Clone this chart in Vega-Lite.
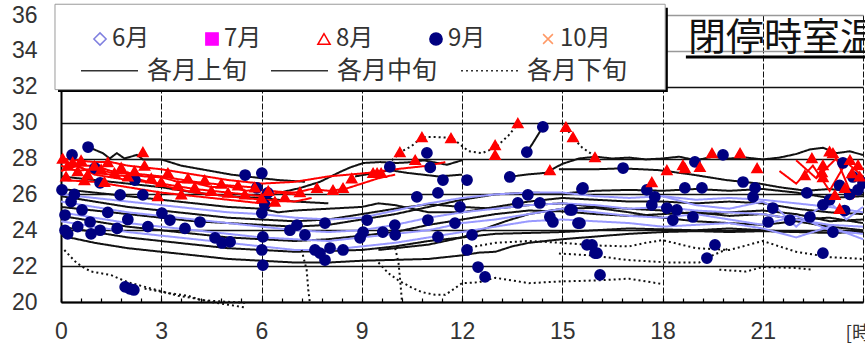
{
  "$schema": "https://vega.github.io/schema/vega-lite/v6.json",
  "width": 802,
  "height": 287,
  "autosize": {"type": "none"},
  "padding": {"left": 61, "top": 15, "right": 2, "bottom": 45},
  "background": "white",
  "config": {"view": {"stroke": null}, "font": "Liberation Sans"},
  "title": {
    "text": "閉停時室温",
    "anchor": "start",
    "frame": "group",
    "orient": "top",
    "offset": -84,
    "dx": 627,
    "baseline": "alphabetic",
    "font": "Noto Sans CJK JP",
    "fontSize": 38,
    "fontWeight": "normal",
    "color": "#111"
  },
  "datasets": {
    "lines": [
      {"s":"B1","m":"9月","p":"中旬","h":0.8,"t":28.65},{"s":"B1","m":"9月","p":"中旬","h":1.25,"t":28.3},{"s":"B1","m":"9月","p":"中旬","h":1.46,"t":28.0},{"s":"B1","m":"9月","p":"中旬","h":1.67,"t":28.3},{"s":"B1","m":"9月","p":"中旬","h":1.9,"t":28.0},{"s":"B1","m":"9月","p":"中旬","h":2.27,"t":28.2},{"s":"B1","m":"9月","p":"中旬","h":2.45,"t":27.95},{"s":"B1","m":"9月","p":"中旬","h":3,"t":27.95},{"s":"B1","m":"9月","p":"中旬","h":3.6,"t":27.6},{"s":"B1","m":"9月","p":"中旬","h":4.5,"t":27.3},{"s":"B1","m":"9月","p":"中旬","h":5.1,"t":27.1},{"s":"B1","m":"9月","p":"中旬","h":6,"t":26.9},{"s":"B1","m":"9月","p":"中旬","h":6.5,"t":26.8},{"s":"B1","m":"9月","p":"中旬","h":7.3,"t":26.7},
      {"s":"B6","m":"8月","p":"中旬","h":0,"t":27.0},{"s":"B6","m":"8月","p":"中旬","h":1,"t":26.8},{"s":"B6","m":"8月","p":"中旬","h":2,"t":26.6},{"s":"B6","m":"8月","p":"中旬","h":3,"t":26.4},{"s":"B6","m":"8月","p":"中旬","h":4,"t":26.1},{"s":"B6","m":"8月","p":"中旬","h":5,"t":25.9},{"s":"B6","m":"8月","p":"中旬","h":6,"t":25.8},{"s":"B6","m":"8月","p":"中旬","h":6.5,"t":25.7},{"s":"B6","m":"8月","p":"中旬","h":7,"t":25.6},{"s":"B6","m":"8月","p":"中旬","h":8,"t":25.5},
      {"s":"B2","m":"8月","p":"中旬","h":6.55,"t":26.1},{"s":"B2","m":"8月","p":"中旬","h":7.15,"t":26.35},{"s":"B2","m":"8月","p":"中旬","h":7.75,"t":26.7},{"s":"B2","m":"8月","p":"中旬","h":8.35,"t":27.25},{"s":"B2","m":"8月","p":"中旬","h":8.65,"t":27.5},{"s":"B2","m":"8月","p":"中旬","h":9.05,"t":27.75},{"s":"B2","m":"8月","p":"中旬","h":9.55,"t":27.8},{"s":"B2","m":"8月","p":"中旬","h":10.05,"t":27.75},{"s":"B2","m":"8月","p":"中旬","h":10.55,"t":27.8},{"s":"B2","m":"8月","p":"中旬","h":10.85,"t":27.9},{"s":"B2","m":"8月","p":"中旬","h":11.55,"t":27.65},{"s":"B2","m":"8月","p":"中旬","h":12,"t":27.9},
      {"s":"B3","m":"8月","p":"中旬","h":8.8,"t":27.0},{"s":"B3","m":"8月","p":"中旬","h":9.4,"t":27.2},{"s":"B3","m":"8月","p":"中旬","h":9.85,"t":27.35},{"s":"B3","m":"8月","p":"中旬","h":10.35,"t":27.2},{"s":"B3","m":"8月","p":"中旬","h":11.3,"t":27.0},{"s":"B3","m":"8月","p":"中旬","h":12,"t":27.1},
      {"s":"B4","m":"8月","p":"中旬","h":13.4,"t":26.97},{"s":"B4","m":"8月","p":"中旬","h":13.9,"t":27.1},{"s":"B4","m":"8月","p":"中旬","h":14.5,"t":27.2},{"s":"B4","m":"8月","p":"中旬","h":15,"t":27.7},{"s":"B4","m":"8月","p":"中旬","h":15.5,"t":28.0},{"s":"B4","m":"8月","p":"中旬","h":16,"t":28.1},{"s":"B4","m":"8月","p":"中旬","h":16.5,"t":28.0},{"s":"B4","m":"8月","p":"中旬","h":17,"t":28.05},{"s":"B4","m":"8月","p":"中旬","h":17.5,"t":27.95},{"s":"B4","m":"8月","p":"中旬","h":18,"t":28.0},{"s":"B4","m":"8月","p":"中旬","h":18.5,"t":28.1},{"s":"B4","m":"8月","p":"中旬","h":19,"t":27.9},{"s":"B4","m":"8月","p":"中旬","h":19.5,"t":28.1},{"s":"B4","m":"8月","p":"中旬","h":20,"t":28.0},{"s":"B4","m":"8月","p":"中旬","h":20.5,"t":28.05},{"s":"B4","m":"8月","p":"中旬","h":21,"t":27.95},{"s":"B4","m":"8月","p":"中旬","h":21.5,"t":28.05},{"s":"B4","m":"8月","p":"中旬","h":22,"t":28.25},{"s":"B4","m":"8月","p":"中旬","h":22.4,"t":28.5},{"s":"B4","m":"8月","p":"中旬","h":22.8,"t":28.6},{"s":"B4","m":"8月","p":"中旬","h":23.2,"t":28.3},{"s":"B4","m":"8月","p":"中旬","h":23.6,"t":28.4},{"s":"B4","m":"8月","p":"中旬","h":24,"t":28.2},
      {"s":"B5","m":"8月","p":"中旬","h":14.9,"t":27.4},{"s":"B5","m":"8月","p":"中旬","h":16,"t":27.4},{"s":"B5","m":"8月","p":"中旬","h":16.8,"t":27.45},{"s":"B5","m":"8月","p":"中旬","h":17.9,"t":27.35},{"s":"B5","m":"8月","p":"中旬","h":18.9,"t":27.1},{"s":"B5","m":"8月","p":"中旬","h":19.9,"t":26.8},{"s":"B5","m":"8月","p":"中旬","h":20.9,"t":26.6},{"s":"B5","m":"8月","p":"中旬","h":21.5,"t":26.4},{"s":"B5","m":"8月","p":"中旬","h":22.3,"t":26.2},{"s":"B5","m":"8月","p":"中旬","h":23,"t":26.3},{"s":"B5","m":"8月","p":"中旬","h":24,"t":26.1},
      {"s":"N8","m":"9月","p":"中旬","h":13.94,"t":28.36},{"s":"N8","m":"9月","p":"中旬","h":14.1,"t":28.8},{"s":"N8","m":"9月","p":"中旬","h":14.42,"t":29.76},
      {"s":"N1","m":"9月","p":"上旬","h":0,"t":26.3},{"s":"N1","m":"9月","p":"上旬","h":1,"t":26.1},{"s":"N1","m":"9月","p":"上旬","h":2,"t":25.9},{"s":"N1","m":"9月","p":"上旬","h":3,"t":25.7},{"s":"N1","m":"9月","p":"上旬","h":4,"t":25.5},{"s":"N1","m":"9月","p":"上旬","h":5,"t":25.3},{"s":"N1","m":"9月","p":"上旬","h":6,"t":25.2},{"s":"N1","m":"9月","p":"上旬","h":6.5,"t":25.0},{"s":"N1","m":"9月","p":"上旬","h":7,"t":25.1},{"s":"N1","m":"9月","p":"上旬","h":8,"t":25.2},{"s":"N1","m":"9月","p":"上旬","h":9,"t":25.3},{"s":"N1","m":"9月","p":"上旬","h":9.5,"t":25.5},{"s":"N1","m":"9月","p":"上旬","h":10,"t":25.4},{"s":"N1","m":"9月","p":"上旬","h":10.5,"t":25.2},{"s":"N1","m":"9月","p":"上旬","h":11,"t":25.0},{"s":"N1","m":"9月","p":"上旬","h":12,"t":25.0},{"s":"N1","m":"9月","p":"上旬","h":13,"t":25.3},{"s":"N1","m":"9月","p":"上旬","h":14,"t":25.6},{"s":"N1","m":"9月","p":"上旬","h":15,"t":25.8},{"s":"N1","m":"9月","p":"上旬","h":16,"t":25.7},{"s":"N1","m":"9月","p":"上旬","h":17,"t":25.6},{"s":"N1","m":"9月","p":"上旬","h":18,"t":25.6},{"s":"N1","m":"9月","p":"上旬","h":19,"t":25.5},{"s":"N1","m":"9月","p":"上旬","h":20,"t":25.6},{"s":"N1","m":"9月","p":"上旬","h":21,"t":25.5},{"s":"N1","m":"9月","p":"上旬","h":22,"t":25.2},{"s":"N1","m":"9月","p":"上旬","h":23,"t":25.0},{"s":"N1","m":"9月","p":"上旬","h":24,"t":24.9},
      {"s":"N2","m":"6月","p":"中旬","h":0,"t":25.3},{"s":"N2","m":"6月","p":"中旬","h":1,"t":25.1},{"s":"N2","m":"6月","p":"中旬","h":2,"t":24.9},{"s":"N2","m":"6月","p":"中旬","h":3,"t":24.7},{"s":"N2","m":"6月","p":"中旬","h":4,"t":24.5},{"s":"N2","m":"6月","p":"中旬","h":5,"t":24.4},{"s":"N2","m":"6月","p":"中旬","h":6,"t":24.3},{"s":"N2","m":"6月","p":"中旬","h":7,"t":24.2},{"s":"N2","m":"6月","p":"中旬","h":8,"t":24.3},{"s":"N2","m":"6月","p":"中旬","h":9,"t":24.6},{"s":"N2","m":"6月","p":"中旬","h":10,"t":24.9},{"s":"N2","m":"6月","p":"中旬","h":11,"t":25.3},{"s":"N2","m":"6月","p":"中旬","h":12,"t":25.7},{"s":"N2","m":"6月","p":"中旬","h":13,"t":26.0},{"s":"N2","m":"6月","p":"中旬","h":14,"t":26.1},{"s":"N2","m":"6月","p":"中旬","h":15,"t":26.05},{"s":"N2","m":"6月","p":"中旬","h":16,"t":26.2},{"s":"N2","m":"6月","p":"中旬","h":17,"t":26.25},{"s":"N2","m":"6月","p":"中旬","h":18,"t":26.2},{"s":"N2","m":"6月","p":"中旬","h":19,"t":26.3},{"s":"N2","m":"6月","p":"中旬","h":20,"t":26.2},{"s":"N2","m":"6月","p":"中旬","h":21,"t":26.3},{"s":"N2","m":"6月","p":"中旬","h":22,"t":26.1},{"s":"N2","m":"6月","p":"中旬","h":23,"t":25.8},{"s":"N2","m":"6月","p":"中旬","h":24,"t":25.9},
      {"s":"N3","m":"6月","p":"中旬","h":0,"t":24.8},{"s":"N3","m":"6月","p":"中旬","h":1,"t":24.5},{"s":"N3","m":"6月","p":"中旬","h":2,"t":24.2},{"s":"N3","m":"6月","p":"中旬","h":3,"t":24.0},{"s":"N3","m":"6月","p":"中旬","h":4,"t":23.8},{"s":"N3","m":"6月","p":"中旬","h":5,"t":23.6},{"s":"N3","m":"6月","p":"中旬","h":6,"t":23.5},{"s":"N3","m":"6月","p":"中旬","h":7,"t":23.4},{"s":"N3","m":"6月","p":"中旬","h":8,"t":23.5},{"s":"N3","m":"6月","p":"中旬","h":9,"t":23.7},{"s":"N3","m":"6月","p":"中旬","h":10,"t":23.9},{"s":"N3","m":"6月","p":"中旬","h":11,"t":24.3},{"s":"N3","m":"6月","p":"中旬","h":12,"t":24.6},{"s":"N3","m":"6月","p":"中旬","h":13,"t":24.9},{"s":"N3","m":"6月","p":"中旬","h":14,"t":25.1},{"s":"N3","m":"6月","p":"中旬","h":15,"t":25.05},{"s":"N3","m":"6月","p":"中旬","h":16,"t":24.9},{"s":"N3","m":"6月","p":"中旬","h":17,"t":24.8},{"s":"N3","m":"6月","p":"中旬","h":18,"t":24.9},{"s":"N3","m":"6月","p":"中旬","h":19,"t":25.0},{"s":"N3","m":"6月","p":"中旬","h":20,"t":24.8},{"s":"N3","m":"6月","p":"中旬","h":21,"t":24.9},{"s":"N3","m":"6月","p":"中旬","h":22,"t":24.6},{"s":"N3","m":"6月","p":"中旬","h":23,"t":24.7},{"s":"N3","m":"6月","p":"中旬","h":24,"t":24.4},
      {"s":"N4","m":"9月","p":"上旬","h":0,"t":24.2},{"s":"N4","m":"9月","p":"上旬","h":1,"t":23.9},{"s":"N4","m":"9月","p":"上旬","h":2,"t":23.6},{"s":"N4","m":"9月","p":"上旬","h":3,"t":23.4},{"s":"N4","m":"9月","p":"上旬","h":4,"t":23.2},{"s":"N4","m":"9月","p":"上旬","h":5,"t":23.0},{"s":"N4","m":"9月","p":"上旬","h":6,"t":22.9},{"s":"N4","m":"9月","p":"上旬","h":7,"t":22.8},{"s":"N4","m":"9月","p":"上旬","h":8,"t":22.85},{"s":"N4","m":"9月","p":"上旬","h":9,"t":22.9},{"s":"N4","m":"9月","p":"上旬","h":10,"t":23.1},{"s":"N4","m":"9月","p":"上旬","h":11,"t":23.4},{"s":"N4","m":"9月","p":"上旬","h":12,"t":23.6},{"s":"N4","m":"9月","p":"上旬","h":13,"t":23.8},{"s":"N4","m":"9月","p":"上旬","h":14,"t":23.85},{"s":"N4","m":"9月","p":"上旬","h":15,"t":23.9},{"s":"N4","m":"9月","p":"上旬","h":16,"t":24.0},{"s":"N4","m":"9月","p":"上旬","h":17,"t":24.1},{"s":"N4","m":"9月","p":"上旬","h":18,"t":24.05},{"s":"N4","m":"9月","p":"上旬","h":19,"t":24.0},{"s":"N4","m":"9月","p":"上旬","h":20,"t":24.1},{"s":"N4","m":"9月","p":"上旬","h":21,"t":24.0},{"s":"N4","m":"9月","p":"上旬","h":22,"t":23.9},{"s":"N4","m":"9月","p":"上旬","h":23,"t":24.0},{"s":"N4","m":"9月","p":"上旬","h":24,"t":23.9},
      {"s":"N5","m":"9月","p":"中旬","h":0,"t":23.7},{"s":"N5","m":"9月","p":"中旬","h":1,"t":23.3},{"s":"N5","m":"9月","p":"中旬","h":2,"t":23.0},{"s":"N5","m":"9月","p":"中旬","h":3,"t":22.8},{"s":"N5","m":"9月","p":"中旬","h":4,"t":22.6},{"s":"N5","m":"9月","p":"中旬","h":5,"t":22.4},{"s":"N5","m":"9月","p":"中旬","h":6,"t":22.3},{"s":"N5","m":"9月","p":"中旬","h":7,"t":22.2},{"s":"N5","m":"9月","p":"中旬","h":8,"t":22.2},{"s":"N5","m":"9月","p":"中旬","h":9,"t":22.3},{"s":"N5","m":"9月","p":"中旬","h":10,"t":22.35},{"s":"N5","m":"9月","p":"中旬","h":11,"t":22.4},{"s":"N5","m":"9月","p":"中旬","h":12,"t":22.6},{"s":"N5","m":"9月","p":"中旬","h":12.5,"t":22.75},{"s":"N5","m":"9月","p":"中旬","h":13,"t":22.8},{"s":"N5","m":"9月","p":"中旬","h":13.5,"t":23.1},{"s":"N5","m":"9月","p":"中旬","h":14,"t":23.3},{"s":"N5","m":"9月","p":"中旬","h":15,"t":23.5},{"s":"N5","m":"9月","p":"中旬","h":16,"t":23.65},{"s":"N5","m":"9月","p":"中旬","h":17,"t":23.8},{"s":"N5","m":"9月","p":"中旬","h":18,"t":23.9},{"s":"N5","m":"9月","p":"中旬","h":19,"t":23.95},{"s":"N5","m":"9月","p":"中旬","h":20,"t":23.9},{"s":"N5","m":"9月","p":"中旬","h":21,"t":23.95},{"s":"N5","m":"9月","p":"中旬","h":22,"t":23.9},{"s":"N5","m":"9月","p":"中旬","h":23,"t":23.85},{"s":"N5","m":"9月","p":"中旬","h":24,"t":23.9},
      {"s":"N6","m":"6月","p":"中旬","h":0,"t":25.9},{"s":"N6","m":"6月","p":"中旬","h":1,"t":25.6},{"s":"N6","m":"6月","p":"中旬","h":2,"t":25.3},{"s":"N6","m":"6月","p":"中旬","h":3,"t":25.1},{"s":"N6","m":"6月","p":"中旬","h":4,"t":24.9},{"s":"N6","m":"6月","p":"中旬","h":5,"t":24.7},{"s":"N6","m":"6月","p":"中旬","h":6,"t":24.6},{"s":"N6","m":"6月","p":"中旬","h":7,"t":24.5},{"s":"N6","m":"6月","p":"中旬","h":8,"t":24.6},{"s":"N6","m":"6月","p":"中旬","h":9,"t":24.9},{"s":"N6","m":"6月","p":"中旬","h":10,"t":25.2},{"s":"N6","m":"6月","p":"中旬","h":11,"t":25.45},{"s":"N6","m":"6月","p":"中旬","h":12,"t":25.3},{"s":"N6","m":"6月","p":"中旬","h":13,"t":25.2},{"s":"N6","m":"6月","p":"中旬","h":14,"t":25.4},{"s":"N6","m":"6月","p":"中旬","h":15,"t":25.5},{"s":"N6","m":"6月","p":"中旬","h":16,"t":25.3},{"s":"N6","m":"6月","p":"中旬","h":17,"t":25.2},{"s":"N6","m":"6月","p":"中旬","h":18,"t":25.1},{"s":"N6","m":"6月","p":"中旬","h":19,"t":24.9},{"s":"N6","m":"6月","p":"中旬","h":20,"t":25.0},{"s":"N6","m":"6月","p":"中旬","h":21,"t":25.1},{"s":"N6","m":"6月","p":"中旬","h":22,"t":24.9},{"s":"N6","m":"6月","p":"中旬","h":23,"t":24.5},{"s":"N6","m":"6月","p":"中旬","h":24,"t":24.6},
      {"s":"N7","m":"9月","p":"中旬","h":9.5,"t":22.9},{"s":"N7","m":"9月","p":"中旬","h":10,"t":23.0},{"s":"N7","m":"9月","p":"中旬","h":11,"t":23.2},{"s":"N7","m":"9月","p":"中旬","h":12,"t":23.6},{"s":"N7","m":"9月","p":"中旬","h":12.3,"t":23.8},{"s":"N7","m":"9月","p":"中旬","h":12.7,"t":24.1},{"s":"N7","m":"9月","p":"中旬","h":13.3,"t":24.5},{"s":"N7","m":"9月","p":"中旬","h":14,"t":24.9},{"s":"N7","m":"9月","p":"中旬","h":15,"t":25.2},{"s":"N7","m":"9月","p":"中旬","h":16,"t":25.25},{"s":"N7","m":"9月","p":"中旬","h":17,"t":25.0},{"s":"N7","m":"9月","p":"中旬","h":18,"t":24.7},{"s":"N7","m":"9月","p":"中旬","h":19,"t":24.5},{"s":"N7","m":"9月","p":"中旬","h":20,"t":24.4},{"s":"N7","m":"9月","p":"中旬","h":21,"t":24.3},{"s":"N7","m":"9月","p":"中旬","h":22,"t":24.5},{"s":"N7","m":"9月","p":"中旬","h":23,"t":24.2},{"s":"N7","m":"9月","p":"中旬","h":24,"t":24.0},
      {"s":"M1","m":"6月","p":"上旬","h":0,"t":26.0},{"s":"M1","m":"6月","p":"上旬","h":1,"t":25.8},{"s":"M1","m":"6月","p":"上旬","h":2,"t":25.6},{"s":"M1","m":"6月","p":"上旬","h":3,"t":25.4},{"s":"M1","m":"6月","p":"上旬","h":4,"t":25.2},{"s":"M1","m":"6月","p":"上旬","h":5,"t":25.0},{"s":"M1","m":"6月","p":"上旬","h":6,"t":24.9},{"s":"M1","m":"6月","p":"上旬","h":7,"t":24.7},{"s":"M1","m":"6月","p":"上旬","h":8,"t":24.6},{"s":"M1","m":"6月","p":"上旬","h":9,"t":24.7},{"s":"M1","m":"6月","p":"上旬","h":10,"t":25.1},{"s":"M1","m":"6月","p":"上旬","h":11,"t":25.5},{"s":"M1","m":"6月","p":"上旬","h":12,"t":25.8},{"s":"M1","m":"6月","p":"上旬","h":13,"t":26.0},{"s":"M1","m":"6月","p":"上旬","h":14,"t":26.1},{"s":"M1","m":"6月","p":"上旬","h":15,"t":26.1},{"s":"M1","m":"6月","p":"上旬","h":16,"t":25.9},{"s":"M1","m":"6月","p":"上旬","h":17,"t":25.8},{"s":"M1","m":"6月","p":"上旬","h":18,"t":25.9},{"s":"M1","m":"6月","p":"上旬","h":19,"t":25.7},{"s":"M1","m":"6月","p":"上旬","h":20,"t":25.8},{"s":"M1","m":"6月","p":"上旬","h":21,"t":25.7},{"s":"M1","m":"6月","p":"上旬","h":22,"t":25.5},{"s":"M1","m":"6月","p":"上旬","h":23,"t":25.3},{"s":"M1","m":"6月","p":"上旬","h":24,"t":25.0},
      {"s":"M2","m":"6月","p":"上旬","h":0,"t":25.6},{"s":"M2","m":"6月","p":"上旬","h":1,"t":25.3},{"s":"M2","m":"6月","p":"上旬","h":2,"t":25.0},{"s":"M2","m":"6月","p":"上旬","h":3,"t":24.8},{"s":"M2","m":"6月","p":"上旬","h":4,"t":24.6},{"s":"M2","m":"6月","p":"上旬","h":5,"t":24.4},{"s":"M2","m":"6月","p":"上旬","h":6,"t":24.2},{"s":"M2","m":"6月","p":"上旬","h":7,"t":24.0},{"s":"M2","m":"6月","p":"上旬","h":8,"t":23.9},{"s":"M2","m":"6月","p":"上旬","h":9,"t":24.0},{"s":"M2","m":"6月","p":"上旬","h":10,"t":24.3},{"s":"M2","m":"6月","p":"上旬","h":11,"t":24.7},{"s":"M2","m":"6月","p":"上旬","h":12,"t":25.0},{"s":"M2","m":"6月","p":"上旬","h":13,"t":25.2},{"s":"M2","m":"6月","p":"上旬","h":14,"t":25.4},{"s":"M2","m":"6月","p":"上旬","h":15,"t":25.5},{"s":"M2","m":"6月","p":"上旬","h":16,"t":25.4},{"s":"M2","m":"6月","p":"上旬","h":17,"t":25.2},{"s":"M2","m":"6月","p":"上旬","h":18,"t":25.3},{"s":"M2","m":"6月","p":"上旬","h":19,"t":25.1},{"s":"M2","m":"6月","p":"上旬","h":20,"t":25.0},{"s":"M2","m":"6月","p":"上旬","h":21,"t":24.9},{"s":"M2","m":"6月","p":"上旬","h":22,"t":24.6},{"s":"M2","m":"6月","p":"上旬","h":23,"t":24.3},{"s":"M2","m":"6月","p":"上旬","h":24,"t":24.2},
      {"s":"M3","m":"6月","p":"上旬","h":0,"t":25.0},{"s":"M3","m":"6月","p":"上旬","h":1,"t":24.7},{"s":"M3","m":"6月","p":"上旬","h":2,"t":24.4},{"s":"M3","m":"6月","p":"上旬","h":3,"t":24.2},{"s":"M3","m":"6月","p":"上旬","h":4,"t":24.0},{"s":"M3","m":"6月","p":"上旬","h":5,"t":23.8},{"s":"M3","m":"6月","p":"上旬","h":6,"t":23.6},{"s":"M3","m":"6月","p":"上旬","h":7,"t":23.5},{"s":"M3","m":"6月","p":"上旬","h":8,"t":23.4},{"s":"M3","m":"6月","p":"上旬","h":9,"t":23.6},{"s":"M3","m":"6月","p":"上旬","h":10,"t":23.8},{"s":"M3","m":"6月","p":"上旬","h":11,"t":24.0},{"s":"M3","m":"6月","p":"上旬","h":12,"t":24.4},{"s":"M3","m":"6月","p":"上旬","h":13,"t":24.6},{"s":"M3","m":"6月","p":"上旬","h":14,"t":24.9},{"s":"M3","m":"6月","p":"上旬","h":15,"t":25.2},{"s":"M3","m":"6月","p":"上旬","h":16,"t":25.0},{"s":"M3","m":"6月","p":"上旬","h":17,"t":24.8},{"s":"M3","m":"6月","p":"上旬","h":18,"t":24.7},{"s":"M3","m":"6月","p":"上旬","h":19,"t":24.9},{"s":"M3","m":"6月","p":"上旬","h":20,"t":24.6},{"s":"M3","m":"6月","p":"上旬","h":21,"t":24.3},{"s":"M3","m":"6月","p":"上旬","h":22,"t":24.8},{"s":"M3","m":"6月","p":"上旬","h":23,"t":24.0},{"s":"M3","m":"6月","p":"上旬","h":24,"t":23.8},
      {"s":"M4","m":"6月","p":"上旬","h":0,"t":24.5},{"s":"M4","m":"6月","p":"上旬","h":1,"t":24.2},{"s":"M4","m":"6月","p":"上旬","h":2,"t":23.9},{"s":"M4","m":"6月","p":"上旬","h":3,"t":23.7},{"s":"M4","m":"6月","p":"上旬","h":4,"t":23.5},{"s":"M4","m":"6月","p":"上旬","h":5,"t":23.3},{"s":"M4","m":"6月","p":"上旬","h":6,"t":23.1},{"s":"M4","m":"6月","p":"上旬","h":7,"t":22.9},{"s":"M4","m":"6月","p":"上旬","h":8,"t":22.9},{"s":"M4","m":"6月","p":"上旬","h":9,"t":23.1},{"s":"M4","m":"6月","p":"上旬","h":10,"t":23.3},{"s":"M4","m":"6月","p":"上旬","h":11,"t":23.6},{"s":"M4","m":"6月","p":"上旬","h":12,"t":23.9},{"s":"M4","m":"6月","p":"上旬","h":13,"t":24.2},{"s":"M4","m":"6月","p":"上旬","h":14,"t":24.5},{"s":"M4","m":"6月","p":"上旬","h":15,"t":24.6},{"s":"M4","m":"6月","p":"上旬","h":16,"t":24.5},{"s":"M4","m":"6月","p":"上旬","h":17,"t":24.4},{"s":"M4","m":"6月","p":"上旬","h":18,"t":24.2},{"s":"M4","m":"6月","p":"上旬","h":19,"t":24.3},{"s":"M4","m":"6月","p":"上旬","h":20,"t":24.4},{"s":"M4","m":"6月","p":"上旬","h":21,"t":24.1},{"s":"M4","m":"6月","p":"上旬","h":22,"t":23.6},{"s":"M4","m":"6月","p":"上旬","h":23,"t":24.2},{"s":"M4","m":"6月","p":"上旬","h":24,"t":23.5},
      {"s":"M5","m":"6月","p":"上旬","h":18,"t":25.9},{"s":"M5","m":"6月","p":"上旬","h":19,"t":25.4},{"s":"M5","m":"6月","p":"上旬","h":20,"t":25.2},{"s":"M5","m":"6月","p":"上旬","h":21,"t":25.6},{"s":"M5","m":"6月","p":"上旬","h":21.5,"t":25.1},{"s":"M5","m":"6月","p":"上旬","h":22,"t":24.2},{"s":"M5","m":"6月","p":"上旬","h":22.5,"t":25.0},{"s":"M5","m":"6月","p":"上旬","h":23,"t":25.6},{"s":"M5","m":"6月","p":"上旬","h":23.5,"t":24.6},{"s":"M5","m":"6月","p":"上旬","h":24,"t":25.3},
      {"s":"R1","m":"8月","p":"上旬","h":0,"t":28.0},{"s":"R1","m":"8月","p":"上旬","h":0.5,"t":27.9},{"s":"R1","m":"8月","p":"上旬","h":1,"t":27.8},{"s":"R1","m":"8月","p":"上旬","h":1.5,"t":27.8},{"s":"R1","m":"8月","p":"上旬","h":2,"t":27.6},{"s":"R1","m":"8月","p":"上旬","h":3,"t":27.4},{"s":"R1","m":"8月","p":"上旬","h":4,"t":27.1},{"s":"R1","m":"8月","p":"上旬","h":5,"t":26.8},{"s":"R1","m":"8月","p":"上旬","h":6,"t":26.6},{"s":"R1","m":"8月","p":"上旬","h":7,"t":26.7},{"s":"R1","m":"8月","p":"上旬","h":8,"t":27.0},{"s":"R1","m":"8月","p":"上旬","h":8.6,"t":27.1},{"s":"R1","m":"8月","p":"上旬","h":9.2,"t":27.2},{"s":"R1","m":"8月","p":"上旬","h":10,"t":27.4},{"s":"R1","m":"8月","p":"上旬","h":11,"t":27.6},{"s":"R1","m":"8月","p":"上旬","h":11.5,"t":27.8},
      {"s":"R2","m":"8月","p":"上旬","h":0,"t":27.6},{"s":"R2","m":"8月","p":"上旬","h":0.5,"t":27.3},{"s":"R2","m":"8月","p":"上旬","h":1,"t":27.45},{"s":"R2","m":"8月","p":"上旬","h":1.5,"t":27.2},{"s":"R2","m":"8月","p":"上旬","h":2,"t":27.15},{"s":"R2","m":"8月","p":"上旬","h":2.5,"t":27.0},{"s":"R2","m":"8月","p":"上旬","h":3,"t":26.95},{"s":"R2","m":"8月","p":"上旬","h":3.5,"t":26.7},{"s":"R2","m":"8月","p":"上旬","h":4,"t":26.65},{"s":"R2","m":"8月","p":"上旬","h":4.5,"t":26.4},{"s":"R2","m":"8月","p":"上旬","h":5,"t":26.45},{"s":"R2","m":"8月","p":"上旬","h":5.5,"t":26.2},{"s":"R2","m":"8月","p":"上旬","h":6,"t":26.25},{"s":"R2","m":"8月","p":"上旬","h":6.5,"t":26.15},{"s":"R2","m":"8月","p":"上旬","h":7,"t":26.1},{"s":"R2","m":"8月","p":"上旬","h":7.5,"t":26.3},{"s":"R2","m":"8月","p":"上旬","h":8,"t":26.2},{"s":"R2","m":"8月","p":"上旬","h":8.5,"t":26.3},{"s":"R2","m":"8月","p":"上旬","h":9,"t":26.6},{"s":"R2","m":"8月","p":"上旬","h":9.5,"t":26.9},{"s":"R2","m":"8月","p":"上旬","h":10,"t":27.1},
      {"s":"R3","m":"8月","p":"上旬","h":0,"t":27.3},{"s":"R3","m":"8月","p":"上旬","h":0.5,"t":27.6},{"s":"R3","m":"8月","p":"上旬","h":1,"t":27.1},{"s":"R3","m":"8月","p":"上旬","h":2,"t":26.8},{"s":"R3","m":"8月","p":"上旬","h":3,"t":26.6},{"s":"R3","m":"8月","p":"上旬","h":4,"t":26.3},{"s":"R3","m":"8月","p":"上旬","h":5,"t":26.1},{"s":"R3","m":"8月","p":"上旬","h":6,"t":25.9},{"s":"R3","m":"8月","p":"上旬","h":6.5,"t":26.1},{"s":"R3","m":"8月","p":"上旬","h":7,"t":26.0},
      {"s":"R4","m":"8月","p":"上旬","h":0,"t":26.8},{"s":"R4","m":"8月","p":"上旬","h":1,"t":26.7},{"s":"R4","m":"8月","p":"上旬","h":2,"t":26.4},{"s":"R4","m":"8月","p":"上旬","h":3,"t":26.1},{"s":"R4","m":"8月","p":"上旬","h":4,"t":25.9},{"s":"R4","m":"8月","p":"上旬","h":5,"t":25.7},{"s":"R4","m":"8月","p":"上旬","h":6,"t":25.5},{"s":"R4","m":"8月","p":"上旬","h":6.5,"t":25.4},
      {"s":"R5","m":"8月","p":"上旬","h":0,"t":28.2},{"s":"R5","m":"8月","p":"上旬","h":0.3,"t":27.6},{"s":"R5","m":"8月","p":"上旬","h":1,"t":27.6},{"s":"R5","m":"8月","p":"上旬","h":1.5,"t":27.3},{"s":"R5","m":"8月","p":"上旬","h":2,"t":27.2},{"s":"R5","m":"8月","p":"上旬","h":3,"t":27.0},{"s":"R5","m":"8月","p":"上旬","h":4,"t":26.7},{"s":"R5","m":"8月","p":"上旬","h":5,"t":26.5},{"s":"R5","m":"8月","p":"上旬","h":5.7,"t":26.4},{"s":"R5","m":"8月","p":"上旬","h":6,"t":26.2},
      {"s":"R6","m":"8月","p":"上旬","h":0,"t":27.9},{"s":"R6","m":"8月","p":"上旬","h":1,"t":27.2},{"s":"R6","m":"8月","p":"上旬","h":2,"t":27.0},{"s":"R6","m":"8月","p":"上旬","h":3,"t":26.5},{"s":"R6","m":"8月","p":"上旬","h":4,"t":26.1},{"s":"R6","m":"8月","p":"上旬","h":5,"t":25.9},{"s":"R6","m":"8月","p":"上旬","h":6,"t":25.7},{"s":"R6","m":"8月","p":"上旬","h":7,"t":25.6},{"s":"R6","m":"8月","p":"上旬","h":7.5,"t":25.8},
      {"s":"R7","m":"8月","p":"上旬","h":21.5,"t":27.3},{"s":"R7","m":"8月","p":"上旬","h":22,"t":26.6},{"s":"R7","m":"8月","p":"上旬","h":22.5,"t":27.6},{"s":"R7","m":"8月","p":"上旬","h":23,"t":26.2},{"s":"R7","m":"8月","p":"上旬","h":23.5,"t":27.8},{"s":"R7","m":"8月","p":"上旬","h":24,"t":27.0},
      {"s":"R8","m":"8月","p":"上旬","h":22,"t":27.9},{"s":"R8","m":"8月","p":"上旬","h":22.6,"t":26.9},{"s":"R8","m":"8月","p":"上旬","h":23.2,"t":28.0},{"s":"R8","m":"8月","p":"上旬","h":23.7,"t":25.8},{"s":"R8","m":"8月","p":"上旬","h":24,"t":26.6},
      {"s":"D1","m":"9月","p":"下旬","h":0.1,"t":22.9},{"s":"D1","m":"9月","p":"下旬","h":0.4,"t":22.3},{"s":"D1","m":"9月","p":"下旬","h":0.6,"t":22.0},{"s":"D1","m":"9月","p":"下旬","h":0.9,"t":21.7},{"s":"D1","m":"9月","p":"下旬","h":1.5,"t":21.5},{"s":"D1","m":"9月","p":"下旬","h":2,"t":21.1},{"s":"D1","m":"9月","p":"下旬","h":2.4,"t":20.9},{"s":"D1","m":"9月","p":"下旬","h":3,"t":20.6},{"s":"D1","m":"9月","p":"下旬","h":3.5,"t":20.35},{"s":"D1","m":"9月","p":"下旬","h":4,"t":20.2},{"s":"D1","m":"9月","p":"下旬","h":4.5,"t":20.0},{"s":"D1","m":"9月","p":"下旬","h":5,"t":19.85},{"s":"D1","m":"9月","p":"下旬","h":5.5,"t":19.7},
      {"s":"D2","m":"9月","p":"下旬","h":2.5,"t":20.75},{"s":"D2","m":"9月","p":"下旬","h":3.2,"t":20.5},{"s":"D2","m":"9月","p":"下旬","h":3.8,"t":20.35},{"s":"D2","m":"9月","p":"下旬","h":4.2,"t":20.1},{"s":"D2","m":"9月","p":"下旬","h":5.1,"t":20.0},{"s":"D2","m":"9月","p":"下旬","h":5.6,"t":19.95},
      {"s":"D3","m":"6月","p":"下旬","h":9.5,"t":22.2},{"s":"D3","m":"6月","p":"下旬","h":9.8,"t":21.6},{"s":"D3","m":"6月","p":"下旬","h":10.1,"t":21.2},{"s":"D3","m":"6月","p":"下旬","h":10.5,"t":20.8},{"s":"D3","m":"6月","p":"下旬","h":10.8,"t":20.55},{"s":"D3","m":"6月","p":"下旬","h":11.2,"t":20.4},{"s":"D3","m":"6月","p":"下旬","h":11.5,"t":20.4},{"s":"D3","m":"6月","p":"下旬","h":11.7,"t":20.65},{"s":"D3","m":"6月","p":"下旬","h":12,"t":21.05},{"s":"D3","m":"6月","p":"下旬","h":12.5,"t":21.1},{"s":"D3","m":"6月","p":"下旬","h":13,"t":21.35},{"s":"D3","m":"6月","p":"下旬","h":13.5,"t":21.2},{"s":"D3","m":"6月","p":"下旬","h":14,"t":21.05},{"s":"D3","m":"6月","p":"下旬","h":15,"t":21.15},{"s":"D3","m":"6月","p":"下旬","h":16,"t":21.2},{"s":"D3","m":"6月","p":"下旬","h":17,"t":21.3},{"s":"D3","m":"6月","p":"下旬","h":17.5,"t":21.15},{"s":"D3","m":"6月","p":"下旬","h":18,"t":21.0},
      {"s":"D4","m":"6月","p":"下旬","h":12.1,"t":23.0},{"s":"D4","m":"6月","p":"下旬","h":13,"t":23.3},{"s":"D4","m":"6月","p":"下旬","h":14,"t":23.4},{"s":"D4","m":"6月","p":"下旬","h":15,"t":23.3},{"s":"D4","m":"6月","p":"下旬","h":16,"t":23.15},{"s":"D4","m":"6月","p":"下旬","h":17,"t":23.1},{"s":"D4","m":"6月","p":"下旬","h":17.5,"t":23.3},{"s":"D4","m":"6月","p":"下旬","h":18,"t":23.45},{"s":"D4","m":"6月","p":"下旬","h":19,"t":23.0},{"s":"D4","m":"6月","p":"下旬","h":20,"t":22.9},{"s":"D4","m":"6月","p":"下旬","h":21,"t":23.4},{"s":"D4","m":"6月","p":"下旬","h":22,"t":22.8},{"s":"D4","m":"6月","p":"下旬","h":23,"t":22.5},{"s":"D4","m":"6月","p":"下旬","h":24,"t":22.4},
      {"s":"D5","m":"9月","p":"下旬","h":19.7,"t":21.8},{"s":"D5","m":"9月","p":"下旬","h":20.5,"t":21.7},{"s":"D5","m":"9月","p":"下旬","h":21,"t":21.95},{"s":"D5","m":"9月","p":"下旬","h":22,"t":21.9},{"s":"D5","m":"9月","p":"下旬","h":22.5,"t":21.8},
      {"s":"D6","m":"6月","p":"下旬","h":14.9,"t":22.7},{"s":"D6","m":"6月","p":"下旬","h":15.9,"t":22.6},{"s":"D6","m":"6月","p":"下旬","h":16.9,"t":22.35},{"s":"D6","m":"6月","p":"下旬","h":18.2,"t":22.2},{"s":"D6","m":"6月","p":"下旬","h":19.1,"t":22.2},{"s":"D6","m":"6月","p":"下旬","h":19.5,"t":22.6},{"s":"D6","m":"6月","p":"下旬","h":20,"t":23.0},
      {"s":"D7","m":"9月","p":"下旬","h":7.2,"t":22.9},{"s":"D7","m":"9月","p":"下旬","h":7.35,"t":21.8},{"s":"D7","m":"9月","p":"下旬","h":7.4,"t":20.7},{"s":"D7","m":"9月","p":"下旬","h":7.45,"t":19.9},
      {"s":"D8","m":"9月","p":"下旬","h":10.0,"t":23.0},{"s":"D8","m":"9月","p":"下旬","h":10.1,"t":22.2},{"s":"D8","m":"9月","p":"下旬","h":10.15,"t":21.2},{"s":"D8","m":"9月","p":"下旬","h":10.2,"t":20.1},
      {"s":"D9","m":"8月","p":"下旬","h":9.9,"t":27.9},{"s":"D9","m":"8月","p":"下旬","h":10.2,"t":28.4},{"s":"D9","m":"8月","p":"下旬","h":10.5,"t":28.7},{"s":"D9","m":"8月","p":"下旬","h":10.8,"t":29.2},{"s":"D9","m":"8月","p":"下旬","h":11.2,"t":29.2},{"s":"D9","m":"8月","p":"下旬","h":11.7,"t":29.15},{"s":"D9","m":"8月","p":"下旬","h":12.2,"t":28.4},{"s":"D9","m":"8月","p":"下旬","h":12.6,"t":28.3},{"s":"D9","m":"8月","p":"下旬","h":13.0,"t":28.6},{"s":"D9","m":"8月","p":"下旬","h":13.4,"t":29.3},{"s":"D9","m":"8月","p":"下旬","h":13.7,"t":30.0},
      {"s":"D10","m":"8月","p":"下旬","h":15.1,"t":29.76},{"s":"D10","m":"8月","p":"下旬","h":15.3,"t":29.2},{"s":"D10","m":"8月","p":"下旬","h":15.6,"t":28.6},{"s":"D10","m":"8月","p":"下旬","h":16.0,"t":28.1}
    ],
    "pts": [
      {"m":"9月","h":0.81,"t":28.64},{"m":"9月","h":0.33,"t":28.2},{"m":"9月","h":0.03,"t":26.25},{"m":"9月","h":1.02,"t":27.47},{"m":"9月","h":2.21,"t":26.8},{"m":"9月","h":2.45,"t":25.97},{"m":"9月","h":1.17,"t":26.64},{"m":"9月","h":1.77,"t":25.97},{"m":"9月","h":0.63,"t":25.13},{"m":"9月","h":0.87,"t":24.46},{"m":"9月","h":1.17,"t":24.0},{"m":"9月","h":1.68,"t":24.1},{"m":"9月","h":0.12,"t":24.85},{"m":"9月","h":0.12,"t":24.0},{"m":"9月","h":0.3,"t":25.6},{"m":"9月","h":0.5,"t":24.2},{"m":"9月","h":0.9,"t":23.8},{"m":"9月","h":0.2,"t":23.8},{"m":"9月","h":1.4,"t":25.0},{"m":"9月","h":2.0,"t":24.6},{"m":"9月","h":2.6,"t":24.2},{"m":"9月","h":0.4,"t":26.0},
      {"m":"9月","h":3.02,"t":24.96},{"m":"9月","h":3.26,"t":24.57},{"m":"9月","h":3.71,"t":24.1},{"m":"9月","h":4.16,"t":24.46},{"m":"9月","h":4.61,"t":23.57},{"m":"9月","h":4.82,"t":23.29},{"m":"9月","h":5.06,"t":23.35},{"m":"9月","h":5.51,"t":27.08},{"m":"9月","h":6.01,"t":27.19},{"m":"9月","h":5.86,"t":26.36},{"m":"9月","h":6.19,"t":26.08},{"m":"9月","h":6.1,"t":25.41},{"m":"9月","h":6.01,"t":24.96},{"m":"9月","h":6.04,"t":23.63},{"m":"9月","h":6.01,"t":22.9},{"m":"9月","h":6.04,"t":22.06},{"m":"9月","h":6.85,"t":24.0},{"m":"9月","h":7.06,"t":24.29},{"m":"9月","h":7.3,"t":23.74},{"m":"9月","h":7.6,"t":22.9},{"m":"9月","h":7.9,"t":22.34},{"m":"9月","h":8.05,"t":23.01},{"m":"9月","h":1.92,"t":20.84},{"m":"9月","h":2.06,"t":20.73},{"m":"9月","h":2.18,"t":20.67},
      {"m":"9月","h":7.9,"t":24.4},{"m":"9月","h":9.16,"t":24.57},{"m":"9月","h":10.65,"t":25.86},{"m":"9月","h":11.28,"t":26.08},{"m":"9月","h":11.94,"t":25.3},{"m":"9月","h":10.95,"t":28.31},{"m":"9月","h":11.05,"t":27.5},{"m":"9月","h":11.43,"t":26.8},{"m":"9月","h":12.15,"t":26.8},{"m":"9月","h":9.84,"t":27.53},{"m":"9月","h":10.98,"t":24.57},{"m":"9月","h":9.99,"t":24.29},{"m":"9月","h":9.63,"t":23.9},{"m":"9月","h":10.0,"t":23.74},{"m":"9月","h":9.04,"t":23.9},{"m":"9月","h":8.95,"t":23.57},{"m":"9月","h":8.44,"t":22.9},{"m":"9月","h":7.75,"t":22.73},{"m":"9月","h":11.28,"t":23.63},{"m":"9月","h":11.79,"t":24.4},{"m":"9月","h":12.3,"t":23.74},{"m":"9月","h":12.15,"t":22.9},{"m":"9月","h":12.48,"t":21.95},{"m":"9月","h":12.69,"t":21.4},
      {"m":"9月","h":13.43,"t":26.97},{"m":"9月","h":13.97,"t":25.97},{"m":"9月","h":14.33,"t":25.52},{"m":"9月","h":13.67,"t":25.52},{"m":"9月","h":14.63,"t":24.74},{"m":"9月","h":14.72,"t":24.46},{"m":"9月","h":15.53,"t":24.4},{"m":"9月","h":15.29,"t":25.13},{"m":"9月","h":15.62,"t":26.36},{"m":"9月","h":15.74,"t":23.18},{"m":"9月","h":16.04,"t":22.73},{"m":"9月","h":13.94,"t":28.36},{"m":"9月","h":14.42,"t":29.76},{"m":"9月","h":16.82,"t":27.47},{"m":"9月","h":18.67,"t":26.36},{"m":"9月","h":17.53,"t":26.25},{"m":"9月","h":17.77,"t":25.86},{"m":"9月","h":17.68,"t":25.41},{"m":"9月","h":18.13,"t":25.24},{"m":"9月","h":18.43,"t":25.13},{"m":"9月","h":18.31,"t":24.57},{"m":"9月","h":18.91,"t":24.74},{"m":"9月","h":19.18,"t":26.36},{"m":"9月","h":19.81,"t":28.2},{"m":"9月","h":18.97,"t":27.81},
      {"m":"9月","h":20.41,"t":26.69},{"m":"9月","h":20.77,"t":26.36},{"m":"9月","h":20.71,"t":25.86},{"m":"9月","h":21.3,"t":25.24},{"m":"9月","h":21.16,"t":24.46},{"m":"9月","h":21.81,"t":24.57},{"m":"9月","h":22.32,"t":26.08},{"m":"9月","h":22.8,"t":25.41},{"m":"9月","h":23.1,"t":23.9},{"m":"9月","h":23.4,"t":27.75},{"m":"9月","h":23.7,"t":26.97},{"m":"9月","h":24.0,"t":26.64},{"m":"9月","h":22.41,"t":24.74},{"m":"9月","h":15.89,"t":23.18},{"m":"9月","h":15.98,"t":22.73},{"m":"9月","h":19.57,"t":23.18},{"m":"9月","h":19.33,"t":22.45},{"m":"9月","h":22.8,"t":22.73},{"m":"9月","h":16.13,"t":21.51},{"m":"9月","h":15.59,"t":26.3},{"m":"9月","h":15.23,"t":25.13},{"m":"9月","h":15.47,"t":24.4},{"m":"9月","h":23.3,"t":26.5},{"m":"9月","h":23.6,"t":26.0},{"m":"9月","h":23.85,"t":26.25},{"m":"9月","h":23.0,"t":25.7},{"m":"9月","h":23.45,"t":25.1},
      {"m":"8月","h":0.05,"t":28.0},{"m":"8月","h":0.2,"t":27.6},{"m":"8月","h":0.35,"t":27.8},{"m":"8月","h":0.5,"t":27.3},{"m":"8月","h":0.6,"t":27.9},{"m":"8月","h":0.8,"t":27.1},{"m":"8月","h":1.0,"t":27.6},{"m":"8月","h":1.2,"t":27.4},{"m":"8月","h":1.4,"t":27.8},{"m":"8月","h":1.6,"t":27.2},{"m":"8月","h":1.8,"t":27.5},{"m":"8月","h":2.0,"t":27.0},{"m":"8月","h":2.2,"t":27.3},{"m":"8月","h":2.45,"t":28.36},{"m":"8月","h":2.5,"t":27.6},{"m":"8月","h":2.7,"t":26.9},{"m":"8月","h":3.0,"t":26.7},{"m":"8月","h":3.2,"t":27.2},{"m":"8月","h":3.5,"t":26.5},{"m":"8月","h":3.8,"t":26.9},{"m":"8月","h":4.0,"t":26.4},{"m":"8月","h":4.3,"t":26.8},{"m":"8月","h":4.5,"t":26.2},{"m":"8月","h":4.8,"t":26.6},{"m":"8月","h":5.0,"t":26.1},{"m":"8月","h":5.3,"t":26.5},{"m":"8月","h":5.5,"t":26.0},{"m":"8月","h":5.8,"t":26.4},{"m":"8月","h":6.0,"t":25.8},{"m":"8月","h":6.2,"t":26.2},{"m":"8月","h":6.4,"t":25.6},{"m":"8月","h":0.15,"t":27.0},{"m":"8月","h":0.7,"t":26.8},{"m":"8月","h":1.3,"t":26.7},{"m":"8月","h":2.9,"t":25.9},{"m":"8月","h":3.6,"t":26.0},
      {"m":"8月","h":6.7,"t":25.85},{"m":"8月","h":7.15,"t":26.13},{"m":"8月","h":7.66,"t":26.36},{"m":"8月","h":8.14,"t":26.25},{"m":"8月","h":8.44,"t":26.36},{"m":"8月","h":8.7,"t":26.9},{"m":"8月","h":9.34,"t":27.2},{"m":"8月","h":9.46,"t":27.2},{"m":"8月","h":9.58,"t":27.2},{"m":"8月","h":10.14,"t":28.36},{"m":"8月","h":10.6,"t":27.92},{"m":"8月","h":10.8,"t":29.2},{"m":"8月","h":11.67,"t":29.14},{"m":"8月","h":12.99,"t":28.75},{"m":"8月","h":12.99,"t":28.2},{"m":"8月","h":13.67,"t":29.98},{"m":"8月","h":15.11,"t":29.76},{"m":"8月","h":15.32,"t":29.2},{"m":"8月","h":14.63,"t":27.36},{"m":"8月","h":15.98,"t":28.08},{"m":"8月","h":17.68,"t":26.69},{"m":"8月","h":18.13,"t":27.36},{"m":"8月","h":18.61,"t":27.64},{"m":"8月","h":18.67,"t":27.47},{"m":"8月","h":19.12,"t":27.53},{"m":"8月","h":19.48,"t":28.31},{"m":"8月","h":20.32,"t":28.31},{"m":"8月","h":20.83,"t":27.47},{"m":"8月","h":22.26,"t":27.08},{"m":"8月","h":22.47,"t":28.03},{"m":"8月","h":22.8,"t":27.64},{"m":"8月","h":22.77,"t":27.25},{"m":"8月","h":23.1,"t":28.31},{"m":"8月","h":23.46,"t":26.36},{"m":"8月","h":23.16,"t":25.97},{"m":"8月","h":23.61,"t":27.92},{"m":"8月","h":23.67,"t":27.19},{"m":"8月","h":23.85,"t":27.64},{"m":"8月","h":22.8,"t":26.97},{"m":"8月","h":23.0,"t":28.4},{"m":"8月","h":23.9,"t":27.0},{"m":"8月","h":23.3,"t":25.2}
    ]
  },
  "layer": [
    {
      "data": {"name": "lines"},
      "mark": {"type": "line", "strokeWidth": 2},
      "encoding": {
        "x": {
          "field": "h",
          "type": "quantitative",
          "scale": {"domain": [0, 24], "nice": false, "zero": false},
          "axis": {
            "values": [0,0.6,1.2,1.8,2.4,3,3.6,4.2,4.8,5.4,6,6.6,7.2,7.8,8.4,9,9.6,10.2,10.8,11.4,12,12.6,13.2,13.8,14.4,15,15.6,16.2,16.8,17.4,18,18.6,19.2,19.8,20.4,21,21.6,22.2,22.8,23.4,24],
            "tickCount": 100,
            "title": "[時]",
            "titleX": 784,
            "titleY": 31,
            "titleAlign": "left",
            "titleBaseline": "middle",
            "titleFont": "Noto Sans CJK JP",
            "titleFontSize": 19,
            "titleFontWeight": "normal",
            "titleColor": "#333",
            "grid": true,
            "gridColor": "#111",
            "gridDash": [6, 2],
            "gridWidth": 1,
            "gridOpacity": {"condition": {"test": "datum.value % 3 === 0 && datum.value > 0", "value": 1}, "value": 0},
            "domainColor": "#000",
            "domainWidth": 2,
            "ticks": true,
            "tickSize": -4,
            "tickColor": "#000",
            "tickWidth": 1.2,
            "labelExpr": "datum.value % 3 === 0 && datum.value < 24 ? '' + datum.value : ''",
            "labelFont": "Liberation Sans",
            "labelFontSize": 23,
            "labelColor": "#333",
            "labelPadding": 22,
            "labelFlush": false,
            "labelOverlap": false,
            "zindex": 0
          }
        },
        "y": {
          "field": "t",
          "type": "quantitative",
          "scale": {"domain": [20, 36], "nice": false, "zero": false},
          "axis": {
            "values": [20,22,24,26,28,30,32,34,36],
            "tickCount": 100,
            "labelExpr": "'' + datum.value",
            "title": null,
            "grid": true,
            "gridColor": {"condition": {"test": "datum.value >= 34", "value": "#999"}, "value": "#111"},
            "gridWidth": 1.3,
            "domainColor": "#000",
            "domainWidth": 2,
            "ticks": false,
            "labelFont": "Liberation Sans",
            "labelFontSize": 23,
            "labelColor": "#333",
            "labelPadding": 24,
            "labelOverlap": false,
            "zindex": 0
          }
        },
        "detail": {"field": "s", "type": "nominal"},
        "color": {
          "condition": {
            "test": "datum.p === '上旬'",
            "field": "m",
            "type": "nominal",
            "scale": {"domain": ["8月","6月","7月","9月","10月"], "range": ["#ff0000","#9999ff","#111111","#111111","#111111"]},
            "legend": null
          },
          "value": "#111111"
        },
        "strokeDash": {
          "field": "p",
          "type": "nominal",
          "scale": {"domain": ["上旬","中旬","下旬"], "range": [[1,0],[1,0],[2,3]]},
          "legend": {
            "title": null,
            "orient": "none",
            "legendX": 19,
            "legendY": 26,
            "direction": "horizontal",
            "columns": 3,
            "columnPadding": 20,
            "padding": 0,
            "labelExpr": "'各月' + datum.label",
            "labelFont": "Noto Sans CJK JP",
            "labelFontSize": 25,
            "labelColor": "#333",
            "labelOffset": 8,
            "symbolType": "stroke",
            "symbolSize": 3249,
            "symbolStrokeWidth": 1.5,
            "symbolStrokeColor": "#333",
            "zindex": 2
          }
        }
      }
    },
    {
      "data": {"name": "pts"},
      "mark": {"type": "point", "filled": true, "opacity": 1, "size": 105, "strokeWidth": 1.5},
      "encoding": {
        "x": {"field": "h", "type": "quantitative"},
        "y": {"field": "t", "type": "quantitative"},
        "fill": {
          "field": "m",
          "type": "nominal",
          "scale": {"domain": ["6月","7月","8月","9月","10月"], "range": ["transparent","#ff00ff","transparent","#000080","transparent"]},
          "legend": {
            "title": null,
            "orient": "none",
            "legendX": 27,
            "legendY": 12,
            "direction": "horizontal",
            "columns": 5,
            "gridAlign": "all",
            "columnPadding": 37,
            "padding": 0,
            "labelFont": "Noto Sans CJK JP",
            "labelFontSize": 24,
            "labelColor": "#333",
            "labelOffset": 0,
            "symbolSize": 150,
            "symbolStrokeWidth": 1.5,
            "zindex": 2
          }
        },
        "stroke": {
          "field": "m",
          "type": "nominal",
          "scale": {"domain": ["6月","7月","8月","9月","10月"], "range": ["#7f7fdf","#ff00ff","#ff0000","#000080","#ff9966"]},
          "legend": {
            "title": null,
            "orient": "none",
            "legendX": 27,
            "legendY": 12,
            "direction": "horizontal",
            "columns": 5,
            "gridAlign": "all",
            "columnPadding": 37,
            "padding": 0,
            "labelFont": "Noto Sans CJK JP",
            "labelFontSize": 24,
            "labelColor": "#333",
            "labelOffset": 0,
            "symbolSize": 150,
            "symbolStrokeWidth": 1.5,
            "zindex": 2
          }
        },
        "shape": {
          "field": "m",
          "type": "nominal",
          "scale": {"domain": ["6月","7月","8月","9月","10月"], "range": ["diamond","square","triangle-up","circle","M-0.8,-0.8L0.8,0.8M-0.8,0.8L0.8,-0.8"]},
          "legend": {
            "title": null,
            "orient": "none",
            "legendX": 27,
            "legendY": 12,
            "direction": "horizontal",
            "columns": 5,
            "gridAlign": "all",
            "columnPadding": 37,
            "padding": 0,
            "labelFont": "Noto Sans CJK JP",
            "labelFontSize": 24,
            "labelColor": "#333",
            "labelOffset": 0,
            "symbolSize": 150,
            "symbolStrokeWidth": 1.5,
            "zindex": 2
          }
        }
      }
    },
    {
      "data": {"name": "pts"},
      "transform": [{"filter": "datum.m === '8月'"}],
      "mark": {"type": "point", "shape": "triangle-up", "filled": true, "color": "#ff0000", "opacity": 1, "size": 105},
      "encoding": {
        "x": {"field": "h", "type": "quantitative"},
        "y": {"field": "t", "type": "quantitative"}
      }
    },
    {
      "data": {"values": [{}]},
      "mark": {"type": "rect", "color": "#000"},
      "encoding": {
        "x": {"datum": -0.09, "type": "quantitative"},
        "x2": {"datum": 18.16},
        "y": {"datum": 36.4, "type": "quantitative"},
        "y2": {"datum": 31.71}
      }
    },
    {
      "data": {"values": [{}]},
      "mark": {"type": "rect", "fill": "#fff", "stroke": "#9a9a9a", "strokeWidth": 1},
      "encoding": {
        "x": {"datum": -0.18, "type": "quantitative"},
        "x2": {"datum": 18.08},
        "y": {"datum": 36.6, "type": "quantitative"},
        "y2": {"datum": 31.84}
      }
    },
    {
      "data": {"values": [{}]},
      "mark": {"type": "rule", "color": "#000", "strokeWidth": 3},
      "encoding": {
        "x": {"datum": 18.7, "type": "quantitative"},
        "x2": {"datum": 24.3},
        "y": {"datum": 33.66, "type": "quantitative"}
      }
    }
  ]
}
